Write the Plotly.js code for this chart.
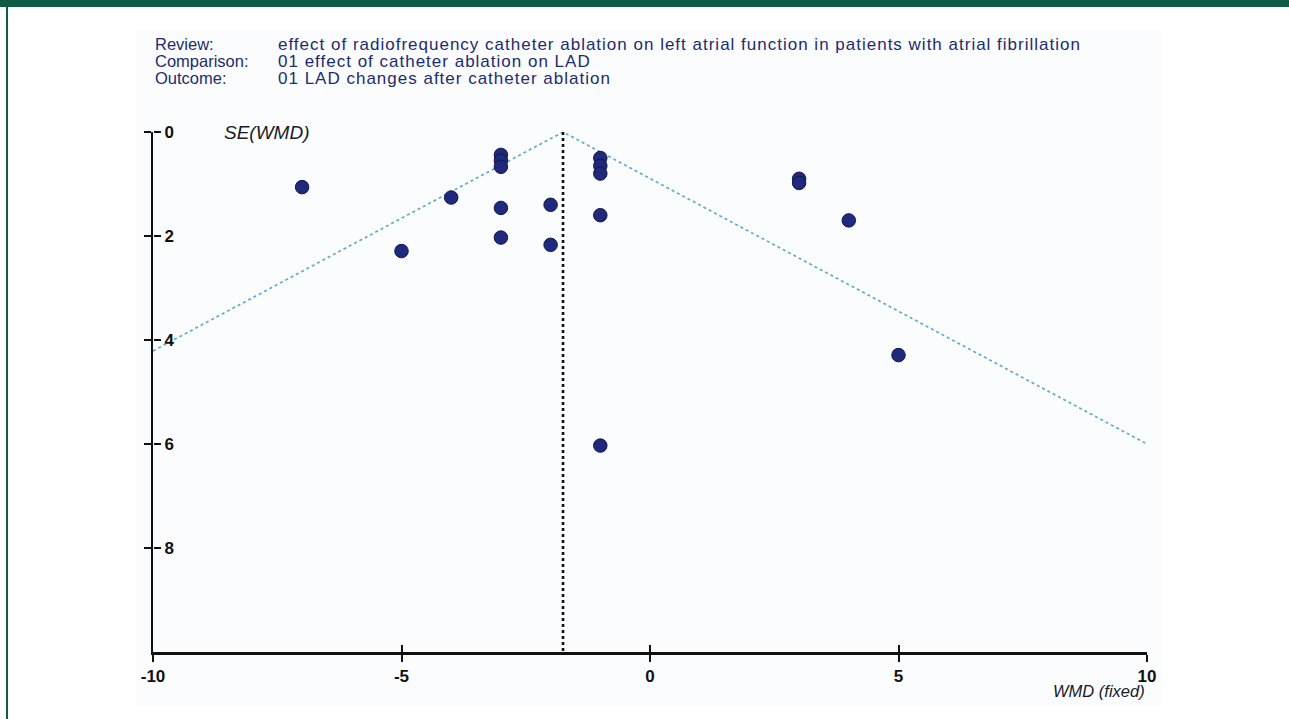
<!DOCTYPE html>
<html>
<head>
<meta charset="utf-8">
<script src="https://cdn.plot.ly/plotly-3.0.1.min.js"></script>
<style>
  html, body { margin: 0; padding: 0; background: #ffffff; }
  #chart { position: absolute; left: 0; top: 0; width: 1289px; height: 719px; }
  #frame { position: absolute; left: 0; top: 0; width: 1289px; height: 719px; pointer-events: none; }
  #topband { position: absolute; left: 0; top: 0; width: 1289px; height: 7px; background: #0e5b46; }
  #leftline { position: absolute; left: 6px; top: 0; width: 2px; height: 719px; background: #0e5b46; }
</style>
</head>
<body>
<div id="chart"></div>
<div id="frame"><div id="topband"></div><div id="leftline"></div></div>
<script>
// Study effects (WMD) and their standard errors
const studyWMD = [-7, -5, -4, -3, -3, -3, -3, -3, -2, -2, -1, -1, -1, -1, -1, 3, 3, 4, 5];
const studySE  = [1.06, 2.29, 1.26, 0.44, 0.55, 0.67, 1.46, 2.03, 1.40, 2.17, 0.50, 0.65, 0.80, 1.60, 6.03, 0.90, 0.98, 1.70, 4.29];

// Pooled fixed-effect estimate and the pseudo 95% confidence funnel
const pooledWMD = -1.75;
const pooledLineSE = [0, 10];
const funnelX = [-10, -1.75, 10];
const funnelY = [4.21, 0, 6.0];

const xTicks = [-10, -5, 0, 5, 10];
const yTicks = [0, 2, 4, 6, 8];

const headerLabels = ["Review:", "Comparison:", "Outcome:"];
const headerTexts = [
  "effect of radiofrequency catheter ablation on left atrial function in patients with atrial fibrillation",
  "01 effect of catheter ablation on LAD",
  "01 LAD changes after catheter ablation"
];

const FONT = 'Liberation Sans, Arial, sans-serif';

const traces = [
  {
    x: funnelX, y: funnelY, type: 'scatter', mode: 'lines',
    line: { color: '#62a9cc', width: 1.7, dash: 'dot' },
    hoverinfo: 'skip', showlegend: false
  },
  {
    x: [pooledWMD, pooledWMD], y: pooledLineSE, type: 'scatter', mode: 'lines',
    line: { color: '#111111', width: 2.6, dash: 'dot' },
    hoverinfo: 'skip', showlegend: false
  },
  {
    x: studyWMD, y: studySE, type: 'scatter', mode: 'markers',
    marker: { size: 13.5, color: '#1f2a7c', line: { color: '#10164a', width: 1 } },
    showlegend: false
  },
  {
    x: [xTicks[0]], y: [yTicks[0]], xaxis: 'x2', yaxis: 'y2', type: 'scatter', mode: 'markers',
    marker: { size: 1, opacity: 0 }, hoverinfo: 'skip', showlegend: false
  }
];

const L = 152.7, R = 1289 - 1147.5, T = 131.7, B = 719 - 652.5;
const plotW = 1289 - L - R, plotH = 719 - T - B;
const rowY = [44, 61, 78];

const annotations = [];
for (let i = 0; i < headerLabels.length; i++) {
  annotations.push({
    xref: 'paper', yref: 'paper', x: (153 - L) / plotW, y: 1 + (T - rowY[i]) / plotH,
    text: headerLabels[i], showarrow: false, xanchor: 'left', yanchor: 'middle',
    font: { family: FONT, size: 16.5, color: '#1d2c6e' }
  });
  annotations.push({
    xref: 'paper', yref: 'paper', x: (276 - L) / plotW, y: 1 + (T - rowY[i]) / plotH,
    text: headerTexts[i], showarrow: false, xanchor: 'left', yanchor: 'middle',
    font: { family: FONT, size: 17, color: '#1d2c6e' }
  });
}

annotations.push({
  xref: 'paper', yref: 'paper', x: (222 - L) / plotW, y: 1, yanchor: 'middle', xanchor: 'left',
  text: '<i>SE(WMD)</i>', showarrow: false,
  font: { family: FONT, size: 19, color: '#1a1a2a' }
});
annotations.push({
  xref: 'paper', yref: 'paper', x: 1, y: -(692 - 652.5) / plotH, yanchor: 'middle', xanchor: 'right',
  text: '<i>WMD (fixed)</i>', showarrow: false,
  font: { family: FONT, size: 16.5, color: '#1a1a2a' }
});

const tickFont = { family: FONT, size: 17, color: '#111111', weight: 'bold' };

const layout = {
  width: 1289, height: 719,
  margin: { l: L, r: R, t: T, b: B },
  paper_bgcolor: 'rgba(0,0,0,0)',
  plot_bgcolor: '#fbfcfe',
  showlegend: false,
  xaxis: {
    range: [-10, 10], tickvals: xTicks, ticktext: xTicks.map(String),
    ticks: 'outside', ticklen: 7, tickwidth: 2, tickcolor: '#111',
    showline: true, linecolor: '#111', linewidth: 2.5,
    showgrid: false, zeroline: false, tickfont: tickFont
  },
  xaxis2: {
    overlaying: 'x', anchor: 'y', side: 'bottom', range: [-10, 10], tickvals: xTicks,
    ticks: 'inside', ticklen: 7, tickwidth: 2, tickcolor: '#111',
    showticklabels: false, showline: false, showgrid: false, zeroline: false
  },
  yaxis: {
    range: [10, 0], tickvals: yTicks,
    ticks: 'outside', ticklen: 7, tickwidth: 2, tickcolor: '#111',
    showticklabels: false,
    showline: true, linecolor: '#111', linewidth: 2.5,
    showgrid: false, zeroline: false
  },
  yaxis2: {
    overlaying: 'y', anchor: 'free', position: 0, side: 'right',
    range: [10, 0], tickvals: yTicks, ticktext: yTicks.map(String),
    ticks: 'outside', ticklen: 7, tickwidth: 2, tickcolor: '#111',
    tickfont: tickFont,
    showline: false, showgrid: false, zeroline: false
  },
  shapes: [{
    type: 'rect', xref: 'paper', yref: 'paper', layer: 'below',
    x0: (135 - L) / plotW, x1: (1163 - L) / plotW,
    y0: -(707 - 652.5) / plotH, y1: 1 + (T - 30) / plotH,
    fillcolor: '#fbfcfe', line: { width: 0 }
  }],
  annotations: annotations
};

Plotly.newPlot('chart', traces, layout, { displayModeBar: false, staticPlot: true }).then(function (gd) {
  // widen letter spacing of the header descriptions to match the original rendering,
  // keeping each line's left edge where Plotly placed it
  document.querySelectorAll('#chart .annotation-text').forEach(function (t) {
    if (headerTexts.indexOf(t.textContent) >= 0) {
      const before = t.getBoundingClientRect().left;
      t.style.letterSpacing = '1px';
      const after = t.getBoundingClientRect().left;
      const dx = before - after;
      const tr = t.getAttribute('transform') || '';
      t.setAttribute('transform', tr + ' translate(' + dx + ',0)');
    }
  });
});
</script>
</body>
</html>
